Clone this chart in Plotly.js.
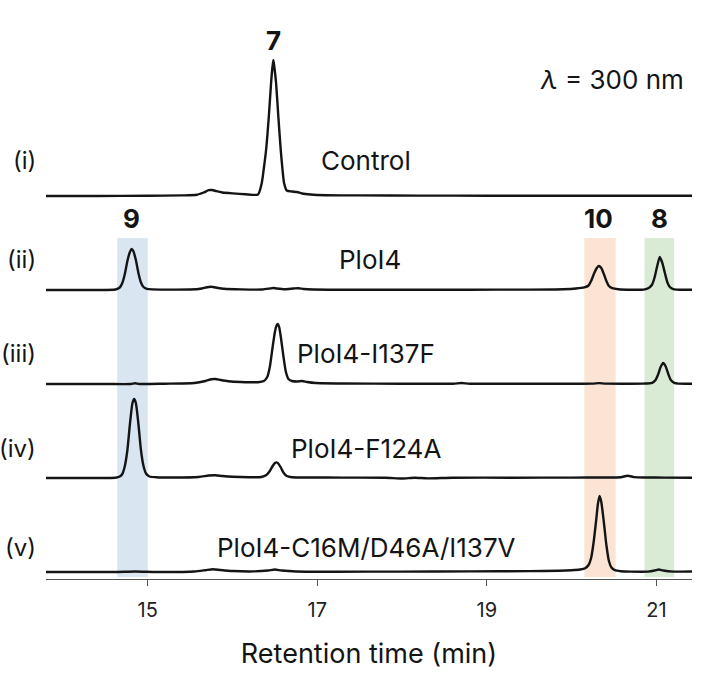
<!DOCTYPE html>
<html>
<head>
<meta charset="utf-8">
<script src="https://cdn.plot.ly/plotly-3.0.1.min.js"></script>
<style>html,body{margin:0;padding:0;background:#fff;}#chart{width:721px;height:675px;}</style>
</head>
<body>
<div id="chart"></div>
<script>
// ---- Data (retention time in min, signal in arbitrary absorbance units) ----
const tickValues = [15, 17, 19, 21];
const tickLabels = ['15', '17', '19', '21'];
const traceNames = ['Control', 'PloI4', 'PloI4-I137F', 'PloI4-F124A', 'PloI4-C16M/D46A/I137V'];
const rowLabels = ['(i)', '(ii)', '(iii)', '(iv)', '(v)'];
const peakLabels = ['7', '9', '10', '8'];
const peakTimes = [16.48, 14.81, 20.32, 21.04];

const ctrlT = [13.80, 14.40, 15.00, 15.40, 15.58, 15.66, 15.72, 15.76, 15.81, 15.88,
               16.00, 16.15, 16.30, 16.345, 16.37, 16.396, 16.428, 16.455, 16.47, 16.482,
               16.495, 16.514, 16.541, 16.569, 16.59, 16.608, 16.64, 16.70, 16.76, 16.82,
               16.92, 17.10, 17.50, 18.20, 19.00, 19.80, 20.60, 21.42];
const ctrlS = [0, 0, 0.3, 0.6, 1.2, 3.5, 5.8, 6, 4.8, 3.5,
               2.6, 1.8, 1.5, 13, 28, 46, 79, 113, 128, 136,
               128, 113, 79, 46, 26, 13, 5.5, 4.5, 4, 2.5,
               1.5, 0.8, 0.6, 0.4, 0.3, 0.3, 0.2, 0.2];

const p4T = [13.80, 14.40, 14.62, 14.67, 14.70, 14.73, 14.76, 14.79, 14.81, 14.83,
             14.86, 14.89, 14.92, 14.95, 14.99, 15.05, 15.20, 15.50, 15.62, 15.70,
             15.75, 15.80, 15.90, 16.10, 16.35, 16.44, 16.48, 16.52, 16.62, 16.72,
             16.78, 16.84, 16.95, 17.30, 18.00, 18.80, 19.50, 19.90, 20.05, 20.15,
             20.20, 20.23, 20.26, 20.29, 20.32, 20.35, 20.38, 20.41, 20.44, 20.48,
             20.55, 20.70, 20.85, 20.91, 20.95, 20.98, 21.01, 21.04, 21.07, 21.10,
             21.13, 21.16, 21.20, 21.27, 21.42];
const p4S = [0, 0, 0.5, 2.5, 7, 16, 29, 38, 41, 39,
             30, 17, 7.5, 3, 1.2, 0.6, 0.4, 0.5, 1.2, 2.8,
             3.2, 2.5, 1.2, 0.6, 0.5, 1.5, 2, 1.5, 0.8, 1.5,
             1.8, 1, 0.5, 0.3, 0.2, 0.3, 0.4, 0.8, 1.5, 2.6,
             4.5, 9, 15.5, 21, 24, 22, 16, 9, 4, 1.8,
             0.8, 0.3, 0.4, 2, 5.5, 13, 24, 33, 27, 17,
             7.5, 2.8, 0.9, 0.3, 0.2];

const i137fT = [13.80, 14.50, 14.80, 14.85, 14.90, 15.20, 15.55, 15.68, 15.75, 15.80,
                15.86, 15.95, 16.10, 16.30, 16.37, 16.41, 16.44, 16.47, 16.50, 16.52,
                16.535, 16.55, 16.57, 16.60, 16.63, 16.66, 16.70, 16.76, 16.82, 16.88,
                16.98, 17.30, 18.00, 18.60, 18.70, 18.80, 19.50, 20.10, 20.25, 20.32,
                20.40, 20.60, 20.85, 20.95, 20.99, 21.02, 21.05, 21.08, 21.11, 21.14,
                21.17, 21.21, 21.26, 21.42];
const i137fS = [0, 0, 0, 0.8, 0, 0.3, 1, 3, 4.8, 5,
                4, 2.8, 2, 1.8, 3, 7, 17, 35, 52, 58.5,
                60, 57, 47, 28, 12, 5, 3, 2.5, 3, 2,
                1, 0.5, 0.3, 0.3, 1, 0.3, 0.3, 0.3, 0.4, 0.9,
                0.4, 0.3, 0.4, 1.2, 4, 9.5, 17, 21, 17.5, 10,
                4, 1.2, 0.4, 0.3];

const f124aT = [13.80, 14.40, 14.62, 14.67, 14.70, 14.73, 14.76, 14.79, 14.82, 14.84,
                14.86, 14.89, 14.92, 14.95, 14.98, 15.02, 15.10, 15.30, 15.60, 15.72,
                15.80, 15.88, 16.00, 16.20, 16.34, 16.40, 16.44, 16.47, 16.50, 16.52,
                16.54, 16.57, 16.60, 16.64, 16.70, 16.90, 17.30, 17.80, 18.00, 18.15,
                18.30, 18.60, 19.30, 20.00, 20.40, 20.58, 20.66, 20.74, 20.85, 21.10,
                21.42];
const f124aS = [0, 0, 0.3, 1.5, 4, 12, 28, 54, 75, 79,
                75, 54, 28, 12, 4.5, 1.5, 0.8, 0.5, 1, 2.5,
                2.8, 2, 1.2, 0.8, 1, 3, 7, 11.5, 15, 15.6,
                14.5, 10.5, 5.5, 2, 0.8, 0.5, 0.4, 0.3, -0.5, 0.3,
                -0.4, 0.3, 0.3, 0.4, 0.5, 0.8, 2.2, 0.9, 0.5, 0.4,
                0.3];

const tripleT = [13.80, 14.60, 14.85, 15.10, 15.55, 15.68, 15.77, 15.86, 16.00, 16.25,
                 16.42, 16.50, 16.58, 16.75, 17.20, 18.00, 18.80, 19.50, 19.85, 20.00,
                 20.10, 20.16, 20.20, 20.23, 20.26, 20.29, 20.31, 20.33, 20.35, 20.38,
                 20.41, 20.44, 20.47, 20.51, 20.58, 20.70, 20.90, 20.98, 21.03, 21.08,
                 21.20, 21.42];
const tripleS = [0, 0, 0.5, 0, 0.5, 1.8, 2.8, 2, 1, 0.6,
                 1.5, 2.5, 1.5, 0.5, 0.3, 0.4, 0.6, 0.9, 1.3, 1.8,
                 2.5, 3.8, 7, 14, 30, 52, 68, 76, 70, 50,
                 27, 11, 4.5, 1.8, 0.8, 0.4, 0.4, 1.5, 2.5, 1.5,
                 0.4, 0.5];

// Highlight bands (retention-time windows of products 9, 10, 8)
const bandStart = [14.64, 20.15, 20.86];
const bandEnd = [15.00, 20.52, 21.21];
const bandColors = ['#d9e5f1', '#fbe4d4', '#d9ebd5'];

// ---- Layout geometry ----
const W = 721, H = 675;
const M = {l: 46, r: 29, t: 20, b: 96};
const plotH = H - M.t - M.b;         // 559
const plotW = W - M.l - M.r;         // 646
const axisBottomPx = H - M.b;        // 579
const fy = p => (axisBottomPx - p) / plotH;
const fx = p => (p - M.l) / plotW;
const baselinePx = [196, 290, 384, 478, 572];
const labelPx = [160, 259, 353, 448, 547];
const namePx = [366, 370, 366, 366, 366];

const series = [[ctrlT, ctrlS], [p4T, p4S], [i137fT, i137fS], [f124aT, f124aS], [tripleT, tripleS]];
const font = 'Inter, "Open Sans", sans-serif';
const ink = '#141414';
const nameSize = 26;
const rowSize = 24;

const data = series.map((s, i) => ({
  type: 'scatter', mode: 'lines',
  x: s[0], y: s[1],
  xaxis: 'x', yaxis: i === 0 ? 'y' : 'y' + (i + 1),
  line: {color: ink, width: 2.4, shape: 'spline', smoothing: 0.6},
  hoverinfo: 'skip', showlegend: false
}));

const layout = {
  width: W, height: H,
  margin: M,
  paper_bgcolor: '#fff', plot_bgcolor: 'rgba(0,0,0,0)',
  font: {family: font, color: ink, size: 18},
  showlegend: false,
  xaxis: {
    range: [13.8, 21.42], anchor: 'free', position: 0,
    tickvals: tickValues, ticktext: tickLabels,
    ticks: 'outside', ticklen: 6, tickwidth: 1.2, tickcolor: '#555',
    showline: true, linecolor: '#555', linewidth: 1.2,
    showgrid: false, zeroline: false,
    ticklabelstandoff: 7,
    tickfont: {family: font, size: 20, color: '#222'},
    title: {text: 'Retention time (min)', font: {family: font, size: 27, color: ink}, standoff: 22}
  },
  shapes: [], annotations: []
};

baselinePx.forEach((b, i) => {
  const key = i === 0 ? 'yaxis' : 'yaxis' + (i + 1);
  layout[key] = {
    domain: [fy(b + 5), fy(b - 145)], range: [-5, 145],
    anchor: 'x', visible: false, fixedrange: true,
    showgrid: false, zeroline: false
  };
});

bandStart.forEach((s, i) => {
  layout.shapes.push({
    type: 'rect', xref: 'x', yref: 'paper', layer: 'below',
    x0: s, x1: bandEnd[i], y0: fy(577), y1: fy(238),
    fillcolor: bandColors[i], line: {width: 0}
  });
});

rowLabels.forEach((t, i) => {
  layout.annotations.push({
    text: t, xref: 'paper', yref: 'paper', x: fx(38), y: fy(labelPx[i]),
    xanchor: 'right', yanchor: 'middle', showarrow: false,
    font: {family: font, size: rowSize, color: ink}
  });
  layout.annotations.push({
    text: traceNames[i], xref: 'paper', yref: 'paper', x: fx(namePx[i]), y: fy(labelPx[i]),
    xanchor: 'center', yanchor: 'middle', showarrow: false,
    font: {family: font, size: nameSize, color: ink}
  });
});

peakLabels.forEach((t, i) => {
  layout.annotations.push({
    text: '<b>' + t + '</b>', xref: 'x', yref: 'paper', x: peakTimes[i],
    y: fy(i === 0 ? 40 : 218), xanchor: 'center', yanchor: 'middle', showarrow: false,
    font: {family: font, size: 26, color: ink}
  });
});

layout.annotations.push({
  text: '<i>λ</i> = 300 nm', xref: 'paper', yref: 'paper', x: fx(686), y: fy(79),
  xanchor: 'right', yanchor: 'middle', showarrow: false,
  font: {family: font, size: nameSize, color: ink}
});

Plotly.newPlot('chart', data, layout, {displayModeBar: false, staticPlot: true});
</script>
</body>
</html>
